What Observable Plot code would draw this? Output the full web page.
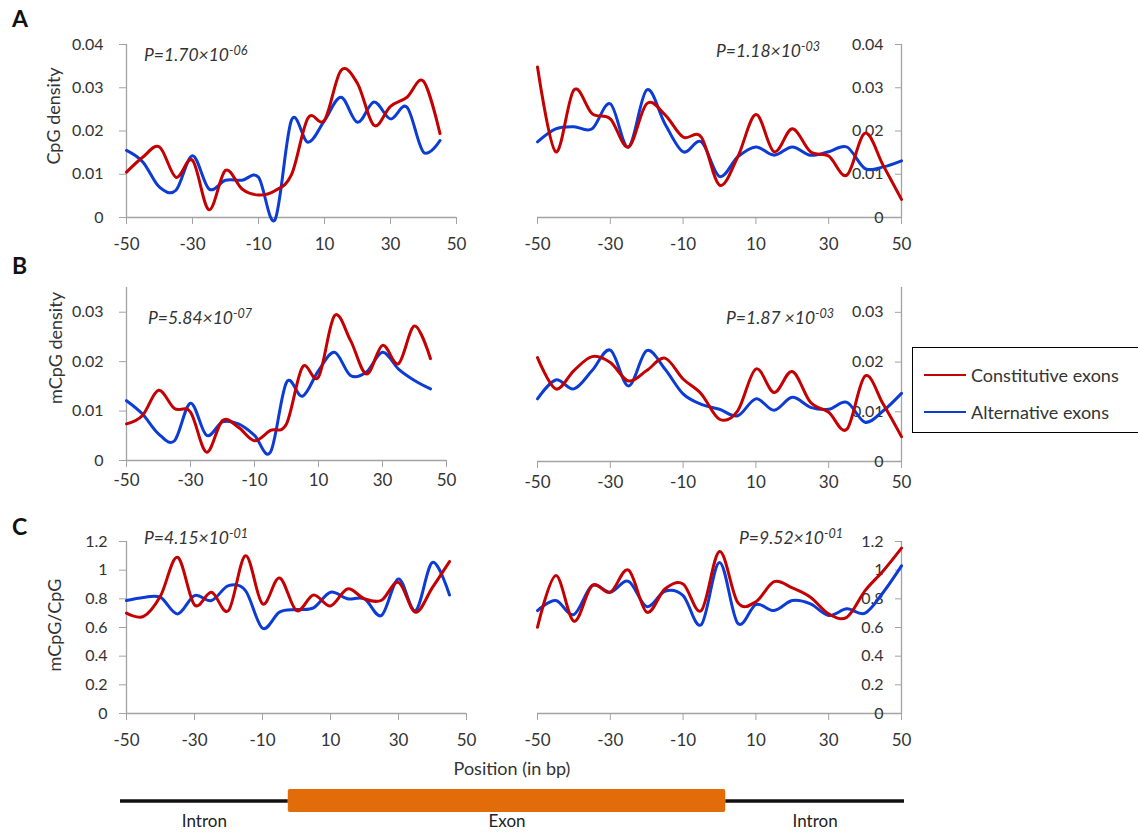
<!DOCTYPE html>
<html>
<head>
<meta charset="utf-8">
<script src="https://cdn.jsdelivr.net/npm/d3@7"></script>
<script src="https://cdn.jsdelivr.net/npm/@observablehq/plot@0.6"></script>
<style>
  html, body { margin: 0; padding: 0; background: #fff; }
  #page { position: relative; width: 1138px; height: 835px; overflow: hidden; background: #fff;
          font-family: Lato, "Open Sans", sans-serif; color: #333; }
  #page svg { position: absolute; overflow: visible; }
  .tag { position: absolute; font-weight: bold; font-size: 23px; line-height: 1; color: #111; }
  .ytitle { position: absolute; font-size: 18px; line-height: 1; white-space: nowrap;
            transform: translate(-50%, -50%) rotate(-90deg); }
  .pval { position: absolute; font-style: italic; font-size: 17.5px; line-height: 17px; white-space: nowrap; color: #333; }
  .pval .exp { position: relative; top: -0.45em; font-size: 0.72em; }
  .xtitle { position: absolute; font-size: 18px; line-height: 1; white-space: nowrap; transform: translate(-50%, -50%); }
  #legend { position: absolute; left: 912px; top: 347px; width: 240px; height: 86px;
            border: 1.5px solid #000; box-sizing: border-box; background: #fff; }
  #legend .row { position: absolute; left: 11px; height: 20px; display: flex; align-items: center; font-size: 18px; }
  #legend .swatch { width: 42px; height: 2.5px; margin-right: 5px; }
</style>
</head>
<body>
<div id="page"></div>
<script>
// ---- data: positions relative to the splice site (bp) ----
const acceptorPos = [-50, -45, -40, -35, -30, -25, -20, -15, -10, -5, 0, 5, 10, 15, 20, 25, 30, 35, 40, 45];
const donorPos = [-50, -45, -40, -35, -30, -25, -20, -15, -10, -5, 0, 5, 10, 15, 20, 25, 30, 35, 40, 45, 50];

const seriesNames = ["Constitutive exons", "Alternative exons"];
const seriesColors = ["#c40000", "#0c3cd4"];

// CpG density
const cpgAcceptorConst = [0.0105, 0.014, 0.0163, 0.0093, 0.0132, 0.0018, 0.0109, 0.0066, 0.0052, 0.0062, 0.0099, 0.023, 0.0225, 0.034, 0.031, 0.0213, 0.0257, 0.0278, 0.0315, 0.0194];
const cpgAcceptorAlt = [0.0155, 0.0128, 0.007, 0.0063, 0.0143, 0.0066, 0.0086, 0.0086, 0.0093, -0.0005, 0.0225, 0.0174, 0.0224, 0.0278, 0.022, 0.0267, 0.0228, 0.0255, 0.0151, 0.0178];
const cpgDonorConst = [0.0348, 0.0152, 0.0295, 0.024, 0.0228, 0.0163, 0.0263, 0.0238, 0.0186, 0.0186, 0.0075, 0.014, 0.0238, 0.0152, 0.0205, 0.0152, 0.0142, 0.0098, 0.0195, 0.012, 0.0042];
const cpgDonorAlt = [0.0175, 0.0205, 0.021, 0.0205, 0.0263, 0.0163, 0.0295, 0.0217, 0.0152, 0.0175, 0.0095, 0.014, 0.0163, 0.0144, 0.0163, 0.0144, 0.0152, 0.0163, 0.0113, 0.0117, 0.0131];

// mCpG density
const mcpgAcceptorConst = [0.0074, 0.0091, 0.0142, 0.0105, 0.0098, 0.0017, 0.0081, 0.0067, 0.004, 0.0061, 0.0074, 0.0189, 0.0169, 0.0293, 0.0243, 0.0175, 0.0233, 0.0196, 0.0272, 0.0206];
const mcpgAcceptorAlt = [0.0121, 0.0094, 0.0054, 0.004, 0.0116, 0.0051, 0.0078, 0.0074, 0.0051, 0.0017, 0.0158, 0.013, 0.0182, 0.0219, 0.0172, 0.0179, 0.0219, 0.0185, 0.0162, 0.0145];
const mcpgDonorConst = [0.0209, 0.0146, 0.0183, 0.0211, 0.0199, 0.0162, 0.0183, 0.0208, 0.0166, 0.0136, 0.0085, 0.0102, 0.0186, 0.0139, 0.0181, 0.0119, 0.0099, 0.0065, 0.0172, 0.0115, 0.005];
const mcpgDonorAlt = [0.0126, 0.0164, 0.0146, 0.0183, 0.0224, 0.0152, 0.0223, 0.0186, 0.0136, 0.0115, 0.0105, 0.0092, 0.0126, 0.0103, 0.0129, 0.0109, 0.0105, 0.0119, 0.0079, 0.0102, 0.0137];

// mCpG/CpG ratio
const ratioAcceptorConst = [0.70, 0.677, 0.82, 1.09, 0.758, 0.846, 0.718, 1.10, 0.765, 0.946, 0.718, 0.827, 0.75, 0.869, 0.80, 0.79, 0.915, 0.707, 0.88, 1.06];
const ratioAcceptorAlt = [0.788, 0.81, 0.81, 0.695, 0.823, 0.788, 0.892, 0.857, 0.595, 0.707, 0.725, 0.737, 0.846, 0.80, 0.80, 0.684, 0.939, 0.718, 1.054, 0.827];
const ratioDonorConst = [0.602, 0.962, 0.644, 0.892, 0.846, 1.0, 0.707, 0.869, 0.904, 0.718, 1.13, 0.776, 0.78, 0.92, 0.876, 0.811, 0.695, 0.672, 0.857, 0.996, 1.154];
const ratioDonorAlt = [0.718, 0.788, 0.69, 0.892, 0.846, 0.922, 0.746, 0.853, 0.823, 0.62, 1.054, 0.63, 0.76, 0.718, 0.788, 0.765, 0.684, 0.73, 0.70, 0.846, 1.03];

// axis ticks and labels
const xDomain = [-50, 50];
const xTicks = [-50, -30, -10, 10, 30, 50];
const yTicksCpg = [0, 0.01, 0.02, 0.03, 0.04];
const yTicksMcpg = [0, 0.01, 0.02, 0.03];
const yTicksRatio = [0, 0.2, 0.4, 0.6, 0.8, 1, 1.2];
const rowTags = ["A", "B", "C"];
const yTitles = ["CpG density", "mCpG density", "mCpG/CpG"];
const pValues = [
  ["P=1.70×10", "-06"], ["P=1.18×10", "-03"],
  ["P=5.84×10", "-07"], ["P=1.87 ×10", "-03"],
  ["P=4.15×10", "-01"], ["P=9.52×10", "-01"]
];
const xTitle = "Position (in bp)";
// schematic gene model, in percent of the track length
const geneParts = [
  {part: "Intron", start: 0, end: 21.4},
  {part: "Exon", start: 21.4, end: 77.2},
  {part: "Intron", start: 77.2, end: 100}
];

// ---- layout ----
const axisGray = "#a3a3a3";
const textColor = "#333";
const page = document.getElementById("page");
const fmt = d => String(+d.toFixed(3));

const panels = [
  {side: "left",  x0: 126, x1: 456, yTop: 44,  yBot: 217, yDomain: [0, 0.04],  yTicks: yTicksCpg,   xPad: 13, yPad: 16, pos: acceptorPos, con: cpgAcceptorConst,   alt: cpgAcceptorAlt,   p: pValues[0], pAt: [144, 46]},
  {side: "right", x0: 537, x1: 901, yTop: 44,  yBot: 217, yDomain: [0, 0.04],  yTicks: yTicksCpg,   xPad: 13, yPad: 11, pos: donorPos,    con: cpgDonorConst,      alt: cpgDonorAlt,      p: pValues[1], pAt: [716, 42]},
  {side: "left",  x0: 126, x1: 446, yTop: 287, yBot: 460, yDomain: [0, 0.035], yTicks: yTicksMcpg,  xPad: 6,  yPad: 16, pos: acceptorPos, con: mcpgAcceptorConst,  alt: mcpgAcceptorAlt,  p: pValues[2], pAt: [148, 309]},
  {side: "right", x0: 537, x1: 901, yTop: 287, yBot: 461, yDomain: [0, 0.035], yTicks: yTicksMcpg,  xPad: 7,  yPad: 11, pos: donorPos,    con: mcpgDonorConst,     alt: mcpgDonorAlt,     p: pValues[3], pAt: [726, 309]},
  {side: "left",  x0: 126, x1: 466, yTop: 541, yBot: 713, yDomain: [0, 1.2],   yTicks: yTicksRatio, xPad: 13, yPad: 12, pos: acceptorPos, con: ratioAcceptorConst, alt: ratioAcceptorAlt, p: pValues[4], pAt: [144, 529]},
  {side: "right", x0: 537, x1: 901, yTop: 541, yBot: 713, yDomain: [0, 1.2],   yTicks: yTicksRatio, xPad: 13, yPad: 11, pos: donorPos,    con: ratioDonorConst,    alt: ratioDonorAlt,    p: pValues[5], pAt: [739, 529]}
];

let colorScale = null;

for (const cfg of panels) {
  const rows = [];
  // alternative exons first so the constitutive curve sits on top
  cfg.pos.forEach((p, i) => rows.push({pos: p, value: cfg.alt[i], series: seriesNames[1]}));
  cfg.pos.forEach((p, i) => rows.push({pos: p, value: cfg.con[i], series: seriesNames[0]}));

  const left = cfg.side === "left";
  const ml = left ? 90 : 12, mr = 22, mt = 8, mb = 40;
  const w = cfg.x1 - cfg.x0 + ml + mr;
  const h = cfg.yBot - cfg.yTop + mt + mb;

  const yAxis = left
    ? Plot.axisY({anchor: "left", ticks: cfg.yTicks, tickSize: 7, tickPadding: cfg.yPad, tickFormat: fmt,
                  stroke: axisGray, fill: textColor, label: null, fontSize: 16})
    : Plot.axisY({anchor: "right", ticks: cfg.yTicks, tickSize: -7, tickPadding: -cfg.yPad, textAnchor: "end",
                  tickFormat: fmt, stroke: axisGray, fill: textColor, label: null, fontSize: 16});

  const chart = Plot.plot({
    width: w, height: h,
    marginLeft: ml, marginRight: mr, marginTop: mt, marginBottom: mb,
    style: {fontFamily: "Lato, 'Open Sans', sans-serif", fontSize: "16px", color: textColor, background: "transparent"},
    x: {domain: xDomain},
    y: {domain: cfg.yDomain},
    color: {domain: seriesNames, range: seriesColors},
    marks: [
      Plot.ruleY([0], {stroke: axisGray, strokeWidth: 1.3}),
      Plot.ruleX([left ? xDomain[0] : xDomain[1]], {stroke: axisGray, strokeWidth: 1.3}),
      Plot.axisX({ticks: xTicks, tickSize: 7, tickPadding: cfg.xPad, tickFormat: d => String(d),
                  stroke: axisGray, fill: textColor, label: null, fontSize: 17}),
      yAxis,
      Plot.line(rows, {x: "pos", y: "value", z: "series", stroke: "series", strokeWidth: 3, curve: "cardinal"})
    ]
  });
  chart.style.left = (cfg.x0 - ml) + "px";
  chart.style.top = (cfg.yTop - mt) + "px";
  page.appendChild(chart);
  if (!colorScale) colorScale = chart.scale("color");

  const pv = document.createElement("div");
  pv.className = "pval";
  pv.style.left = cfg.pAt[0] + "px";
  pv.style.top = cfg.pAt[1] + "px";
  pv.innerHTML = `${cfg.p[0]}<span class="exp">${cfg.p[1]}</span>`;
  page.appendChild(pv);
}

// row tags and y titles
const tagPos = [[12, 7], [12, 254], [12, 515]];
const titlePos = [[53, 116], [55, 348], [54, 625]];
rowTags.forEach((t, i) => {
  const d = document.createElement("div");
  d.className = "tag";
  d.textContent = t;
  d.style.left = tagPos[i][0] + "px";
  d.style.top = tagPos[i][1] + "px";
  page.appendChild(d);
  const y = document.createElement("div");
  y.className = "ytitle";
  y.textContent = yTitles[i];
  y.style.left = titlePos[i][0] + "px";
  y.style.top = titlePos[i][1] + "px";
  page.appendChild(y);
});

// shared x title
const xt = document.createElement("div");
xt.className = "xtitle";
xt.textContent = xTitle;
xt.style.left = "512px";
xt.style.top = "768px";
page.appendChild(xt);

// legend
const legend = document.createElement("div");
legend.id = "legend";
seriesNames.forEach((name, i) => {
  const row = document.createElement("div");
  row.className = "row";
  row.style.top = (17 + i * 37) + "px";
  const sw = document.createElement("span");
  sw.className = "swatch";
  sw.style.background = colorScale.apply(name);
  const label = document.createElement("span");
  label.textContent = name;
  row.appendChild(sw);
  row.appendChild(label);
  legend.appendChild(row);
});
page.appendChild(legend);

// gene model schematic
const gene = Plot.plot({
  width: 824, height: 53,
  marginLeft: 20, marginRight: 20, marginTop: 7, marginBottom: 23,
  style: {fontFamily: "Lato, 'Open Sans', sans-serif", fontSize: "17px", color: textColor, background: "transparent"},
  x: {domain: [0, 100], axis: null},
  y: {domain: [-1, 1], axis: null},
  marks: [
    Plot.ruleY(geneParts.filter(d => d.part === "Intron"), {x1: "start", x2: "end", y: () => 0, stroke: "#111", strokeWidth: 3.5}),
    Plot.rect(geneParts.filter(d => d.part === "Exon"), {x1: "start", x2: "end", fill: "#e36c0a", rx: 2}),
    Plot.text(geneParts, {x: d => (d.start + d.end) / 2, text: "part", frameAnchor: "bottom", dy: 14, fill: "#222"})
  ]
});
gene.style.left = "100px";
gene.style.top = "782px";
page.appendChild(gene);
</script>
</body>
</html>
